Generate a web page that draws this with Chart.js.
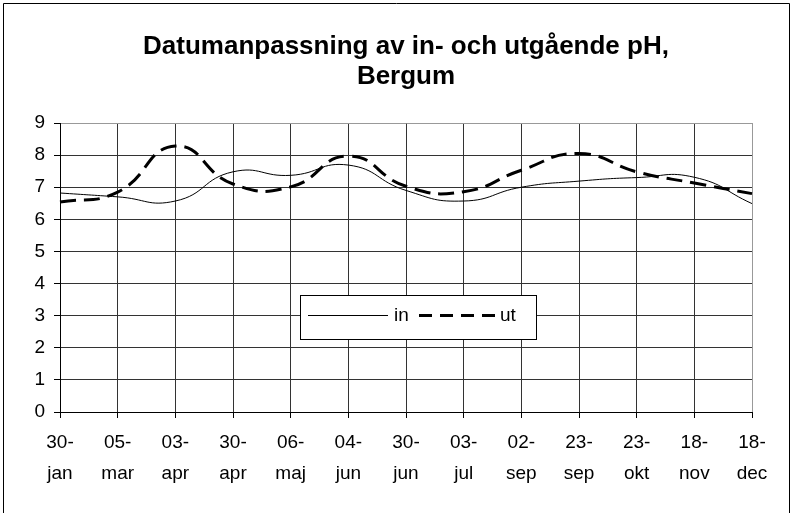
<!DOCTYPE html>
<html>
<head>
<meta charset="utf-8">
<script src="https://cdn.jsdelivr.net/npm/chart.js@4.4.1/dist/chart.umd.min.js"></script>
<style>
  html, body { margin: 0; padding: 0; background: #fff; }
  #wrap { position: relative; width: 793px; height: 513px; }
</style>
</head>
<body>
<div id="wrap"><canvas id="c" width="793" height="513"></canvas></div>
<script>
// Sampling dates (two-line labels: day / month)
const dates = [
  ['30-', 'jan'], ['05-', 'mar'], ['03-', 'apr'], ['30-', 'apr'], ['06-', 'maj'],
  ['04-', 'jun'], ['30-', 'jun'], ['03-', 'jul'], ['02-', 'sep'], ['23-', 'sep'],
  ['23-', 'okt'], ['18-', 'nov'], ['18-', 'dec']
];
// Incoming pH
const phIn = [6.82, 6.70, 6.57, 7.48, 7.37, 7.69, 6.90, 6.57, 7.00, 7.19, 7.30, 7.31, 6.49];
// Outgoing pH
const phUt = [6.54, 6.85, 8.28, 7.10, 7.01, 7.97, 7.03, 6.86, 7.53, 8.05, 7.48, 7.13, 6.80];
const seriesNames = ['in', 'ut'];
const titleLines = ['Datumanpassning av in- och utgående pH,', 'Bergum'];
const yMin = 0, yMax = 9, yStep = 1;

const FONT = "'Liberation Sans', Arial, sans-serif";

// Frame, title and in-plot legend
const decor = {
  id: 'decor',
  beforeDraw(chart) {
    const ctx = chart.ctx;
    ctx.save();
    ctx.fillStyle = '#fff';
    ctx.fillRect(0, 0, chart.width, chart.height);
    ctx.restore();
  },
  afterDraw(chart) {
    const ctx = chart.ctx;
    const ca = chart.chartArea;
    ctx.save();
    // outer frame
    ctx.strokeStyle = '#000';
    ctx.lineWidth = 1;
    ctx.beginPath();
    ctx.moveTo(3.5, chart.height + 2);
    ctx.lineTo(3.5, 3.5);
    ctx.lineTo(chart.width - 3.5, 3.5);
    ctx.lineTo(chart.width - 3.5, chart.height + 2);
    ctx.stroke();

    // title
    ctx.fillStyle = '#000';
    ctx.font = 'bold 26px ' + FONT;
    ctx.textAlign = 'center';
    ctx.textBaseline = 'middle';
    const cx = (ca.left + ca.right) / 2;
    ctx.fillText(titleLines[0], cx, 47);
    ctx.fillText(titleLines[1], cx, 77);

    // legend box
    const bx = 300.5, by = 295.5, bw = 236, bh = 44;
    ctx.fillStyle = '#fff';
    ctx.fillRect(bx, by, bw, bh);
    ctx.strokeStyle = '#000';
    ctx.lineWidth = 1;
    ctx.strokeRect(bx, by, bw, bh);
    const ly = 315.5;
    const ds = chart.data.datasets;
    ctx.font = '19px ' + FONT;
    ctx.textAlign = 'left';
    ctx.textBaseline = 'middle';
    // series 1 sample
    ctx.strokeStyle = ds[0].borderColor;
    ctx.lineWidth = ds[0].borderWidth;
    ctx.setLineDash([]);
    ctx.beginPath(); ctx.moveTo(308, ly); ctx.lineTo(388, ly); ctx.stroke();
    ctx.fillStyle = '#000';
    ctx.fillText(ds[0].label, 394, ly);
    // series 2 sample
    ctx.strokeStyle = ds[1].borderColor;
    ctx.lineWidth = ds[1].borderWidth;
    ctx.setLineDash([13, 8]);
    ctx.beginPath(); ctx.moveTo(419, ly); ctx.lineTo(495, ly); ctx.stroke();
    ctx.setLineDash([]);
    ctx.fillText(ds[1].label, 500, ly);
    ctx.restore();
  }
};

new Chart(document.getElementById('c'), {
  type: 'line',
  data: {
    labels: dates,
    datasets: [
      {
        label: seriesNames[0],
        data: phIn,
        borderColor: '#000',
        borderWidth: 1,
        pointRadius: 0,
        tension: 0.5,
        fill: false
      },
      {
        label: seriesNames[1],
        data: phUt,
        borderColor: '#000',
        borderWidth: 3,
        borderDash: [16, 8],
        pointRadius: 0,
        tension: 0.5,
        fill: false
      }
    ]
  },
  options: {
    responsive: false,
    animation: false,
    devicePixelRatio: 1,
    layout: { padding: { top: 123, left: 0, right: 41, bottom: 0 } },
    plugins: {
      legend: { display: false },
      title: { display: false },
      tooltip: { enabled: false }
    },
    scales: {
      x: {
        offset: false,
        afterFit(s) { s.height = 101; },
        border: { display: true, color: '#000', width: 1 },
        grid: {
          offset: false,
          color: (c) => c.index === dates.length - 1 ? '#999' : '#333',
          tickColor: '#000',
          tickLength: 6,
          drawTicks: true
        },
        ticks: {
          autoSkip: false,
          maxRotation: 0,
          minRotation: 0,
          color: '#000',
          padding: 9,
          font: { family: FONT, size: 19, lineHeight: 1.65 }
        }
      },
      y: {
        min: yMin,
        max: yMax,
        afterFit(s) { s.width = 60; },
        border: { display: true, color: '#000', width: 1 },
        grid: {
          color: (c) => c.tick && c.tick.value === yMax ? '#999' : '#333',
          tickColor: '#000',
          tickLength: 6,
          drawTicks: true
        },
        ticks: {
          stepSize: yStep,
          color: '#000',
          padding: 9,
          font: { family: FONT, size: 19 }
        }
      }
    }
  },
  plugins: [decor]
});
</script>
</body>
</html>
